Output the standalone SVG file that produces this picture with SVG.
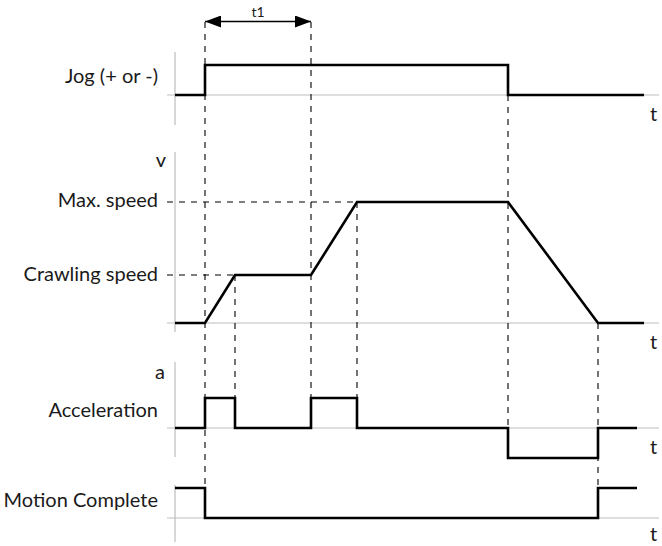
<svg xmlns="http://www.w3.org/2000/svg" width="662" height="546" viewBox="0 0 662 546">
<style>
text{font-family:Lato,"Noto Sans","Liberation Sans",sans-serif;fill:#1a1a1a}
.lbl{font-size:20px;text-anchor:end}
.t{font-size:20px}
.ax{stroke:#bdbdbd;stroke-width:1.2;fill:none}
.sig{stroke:#000;stroke-width:2.6;fill:none;stroke-linejoin:miter}
.dash{stroke:#000;stroke-width:1.1;stroke-dasharray:6,6;fill:none}
</style>
<defs>
<marker id="ah" viewBox="0 0 16 12" refX="16" refY="6" markerWidth="16" markerHeight="12" markerUnits="userSpaceOnUse" orient="auto-start-reverse">
<path d="M0,0 L16,6 L0,12 Z" fill="#000"/>
</marker>
</defs>
<rect width="662" height="546" fill="#fff"/>
<g id="axes">
<path class="ax" d="M175,52V125M167,95H659"/>
<path class="ax" d="M175,152V332M167,323H659"/>
<path class="ax" d="M175,362V457M167,428H659"/>
<path class="ax" d="M175,485V542M167,518H659"/>
</g>
<g id="connectors">
<path class="dash" d="M205,22V488"/>
<path class="dash" d="M311,22V398"/>
<path class="dash" d="M235,275V398"/>
<path class="dash" d="M357,202V398"/>
<path class="dash" d="M508,95V428"/>
<path class="dash" d="M598,323V488"/>
<path class="dash" d="M167,202H357"/>
<path class="dash" d="M167,275H235"/>
<line x1="205" y1="21.5" x2="311" y2="21.5" stroke="#000" stroke-width="1.3" marker-start="url(#ah)" marker-end="url(#ah)"/>
</g>
<g id="jog">
<text class="lbl" x="158" y="83">Jog (+ or -)</text>
<path class="sig" d="M175,95H205V65H508V95H644"/>
<text class="t" x="650" y="121">t</text>
</g>
<g id="velocity">
<text class="lbl" x="166" y="167">v</text>
<text class="lbl" x="158" y="207">Max. speed</text>
<text class="lbl" x="158" y="281">Crawling speed</text>
<path class="sig" d="M175,323H205L235,275H311L357,202H508L598,323H644"/>
<text class="t" x="650" y="349">t</text>
</g>
<g id="acceleration">
<text class="lbl" x="165" y="379">a</text>
<text class="lbl" x="158" y="417">Acceleration</text>
<path class="sig" d="M175,428H205V398H235V428H311V398H357V428H508V458H598V428H637"/>
<text class="t" x="650" y="454">t</text>
</g>
<g id="motion">
<text class="lbl" x="158" y="507">Motion Complete</text>
<path class="sig" d="M175,488H205V518H598V488H637"/>
<text class="t" x="650" y="541">t</text>
</g>
<g id="t1">
<text x="258" y="17" style="font-size:14px;text-anchor:middle">t1</text>
</g>
</svg>
